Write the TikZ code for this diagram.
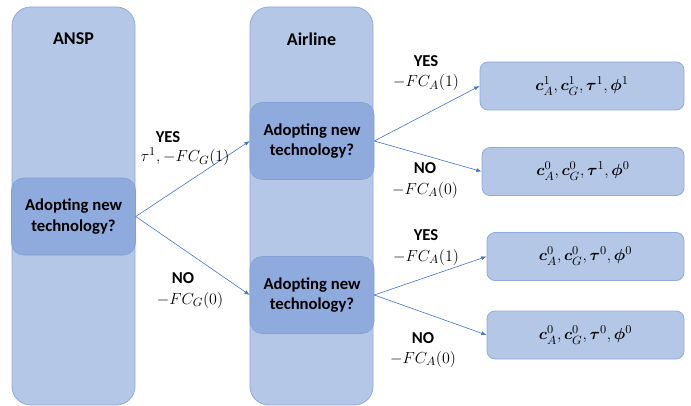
\documentclass[tikz,border=0pt]{standalone}
\usepackage{fontspec}
\setmainfont{Carlito}
\usepackage{amsmath}
\usepackage{bm}
\usetikzlibrary{arrows.meta}
\definecolor{colfill}{RGB}{180,199,231}
\definecolor{colline}{RGB}{143,170,220}
\definecolor{decfill}{RGB}{143,170,220}
\definecolor{decline}{RGB}{130,158,212}
\definecolor{linkblue}{RGB}{68,114,196}

\tikzset{
  column/.style={fill=colfill, draw=colline, line width=0.6pt, rounded corners=14pt},
  heading/.style={font=\fontsize{13.5}{16}\selectfont\bfseries},
  decision/.style={rectangle, rounded corners=9pt, fill=decfill, draw=decline, line width=0.4pt,
    minimum width=93pt, minimum height=57.75pt, inner sep=0pt, align=center,
    font=\fontsize{12.5}{15.5}\selectfont\bfseries},
  outcome/.style={rectangle, rounded corners=6pt, fill=colfill, draw=colline, line width=0.6pt,
    minimum height=36pt, inner sep=0pt, font=\fontsize{12.5}{15}\selectfont},
  choice/.style={font=\fontsize{12.5}{15}\selectfont\bfseries, inner sep=0pt},
  payoff/.style={font=\fontsize{13}{15}\selectfont, inner sep=0pt},
  link/.style={draw=linkblue, line width=0.45pt, -{Latex[length=4pt,width=3pt]}}
}

\begin{document}
\begin{tikzpicture}[x=0.75pt, y=-0.75pt]
  \useasboundingbox (0,0) rectangle (691,406);

  % Player columns
  \draw[column] (12,7) rectangle (135,405);
  \draw[column] (250,7) rectangle (373,405);
  \node[heading] (ansp) at (73.5,39) {ANSP};
  \node[heading] (airline) at (311.5,39) {Airline};

  % Decisions
  \node[decision] (d0) at (73.5,216.5) {Adopting new\\technology?};
  \node[decision] (d1) at (312,141) {Adopting new\\technology?};
  \node[decision] (d2) at (312,295) {Adopting new\\technology?};

  % Outcomes
  \node[outcome, minimum width=153pt] (o1) at (582,86)
    {$\bm{c}_A^1, \bm{c}_G^1, \bm{\tau}^1, \bm{\phi}^1$};
  \node[outcome, minimum width=151.5pt] (o2) at (583,171.5)
    {$\bm{c}_A^0, \bm{c}_G^0, \bm{\tau}^1, \bm{\phi}^0$};
  \node[outcome, minimum width=147.75pt] (o3) at (585.5,256.5)
    {$\bm{c}_A^0, \bm{c}_G^0, \bm{\tau}^0, \bm{\phi}^0$};
  \node[outcome, minimum width=147.75pt] (o4) at (585.5,335)
    {$\bm{c}_A^0, \bm{c}_G^0, \bm{\tau}^0, \bm{\phi}^0$};

  % Branches
  \draw[link] (d0.east) -- (d1.west);
  \draw[link] (d0.east) -- (d2.west);
  \draw[link] (d1.east) -- (o1.west);
  \draw[link] (d1.east) -- (o2.west);
  \draw[link] (d2.east) -- (o3.west);
  \draw[link] (d2.east) -- (o4.west);

  % Branch labels
  \node[choice] (yes0) at (168,137) {YES};
  \node[payoff] (pay0y) at (185,157) {$\tau^1, -FC_G(1)$};
  \node[choice] (no0) at (183,278) {NO};
  \node[payoff] (pay0n) at (190,300) {$-FC_G(0)$};

  \node[choice] (yes1) at (426,61) {YES};
  \node[payoff] (pay1y) at (426,83) {$-FC_A(1)$};
  \node[choice] (no1) at (425,168) {NO};
  \node[payoff] (pay1n) at (425,190) {$-FC_A(0)$};

  \node[choice] (yes2) at (426,235) {YES};
  \node[payoff] (pay2y) at (426,257) {$-FC_A(1)$};
  \node[choice] (no2) at (423,338) {NO};
  \node[payoff] (pay2n) at (423,359) {$-FC_A(0)$};
\end{tikzpicture}
\end{document}
